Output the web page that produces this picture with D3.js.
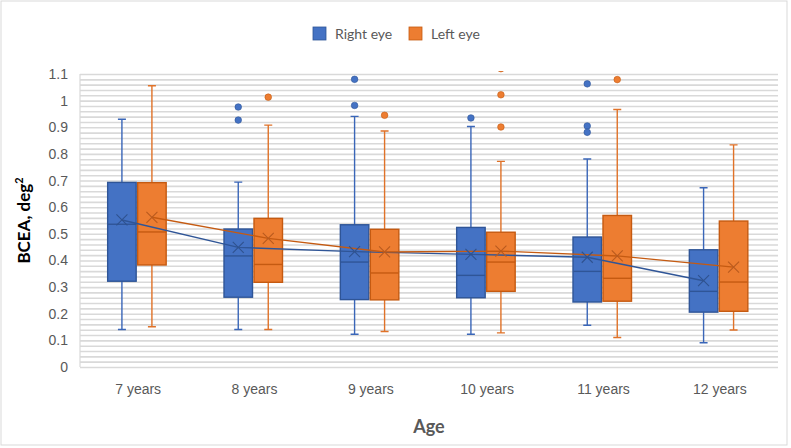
<!DOCTYPE html>
<html>
<head>
<meta charset="utf-8">
<script src="https://cdn.jsdelivr.net/npm/d3@7"></script>
<style>
body { margin:0; background:#fff; }
svg { font-family: Lato, "Open Sans", sans-serif; }
</style>
</head>
<body>
<div id="chart"></div>
<script>
// data
var categories = ["7 years", "8 years", "9 years", "10 years", "11 years", "12 years"];
var series = ["Right eye", "Left eye"];

var rightMin    = [0.141, 0.141, 0.123, 0.123, 0.157, 0.091];
var rightQ1     = [0.322, 0.262, 0.253, 0.260, 0.244, 0.206];
var rightMedian = [0.536, 0.417, 0.394, 0.344, 0.359, 0.284];
var rightQ3     = [0.693, 0.518, 0.534, 0.524, 0.488, 0.440];
var rightMax    = [0.930, 0.694, 0.941, 0.903, 0.781, 0.673];
var rightMean   = [0.552, 0.449, 0.433, 0.423, 0.412, 0.324];
var rightOutliers = [[], [0.976, 0.927], [1.080, 0.982], [0.935], [1.063, 0.905, 0.881], []];

var leftMin    = [0.151, 0.141, 0.133, 0.128, 0.111, 0.139];
var leftQ1     = [0.383, 0.318, 0.252, 0.284, 0.247, 0.209];
var leftMedian = [0.507, 0.385, 0.353, 0.394, 0.333, 0.319];
var leftQ3     = [0.692, 0.558, 0.517, 0.506, 0.569, 0.548];
var leftMax    = [1.056, 0.908, 0.886, 0.772, 0.967, 0.834];
var leftMean   = [0.562, 0.483, 0.432, 0.435, 0.417, 0.375];
var leftOutliers = [[], [1.013], [0.945], [1.12, 1.022, 0.901], [1.079], []];

var yMax = 1.1;

var W = 791, H = 448;
var margin = {top:74, right:13, bottom:81, left:80};
var width = W - margin.left - margin.right;
var height = H - margin.top - margin.bottom;

var fills   = {"Right eye":"#4472C4", "Left eye":"#ED7D31"};
var strokes = {"Right eye":"#2F5597", "Left eye":"#C55A11"};
var whisk   = {"Right eye":"#3A66B8", "Left eye":"#E07228"};

function build(name, mn, q1, md, q3, mx, mean, outl) {
  return categories.map(function(c, i) {
    return {series:name, cat:c, min:mn[i], q1:q1[i], median:md[i], q3:q3[i], max:mx[i], mean:mean[i], outliers:outl[i]};
  });
}
var boxData = {
  "Right eye": build("Right eye", rightMin, rightQ1, rightMedian, rightQ3, rightMax, rightMean, rightOutliers),
  "Left eye":  build("Left eye", leftMin, leftQ1, leftMedian, leftQ3, leftMax, leftMean, leftOutliers)
};

var svg = d3.select("#chart").append("svg")
  .attr("width", W).attr("height", H);

// chart border
svg.append("rect").attr("x", 1).attr("y", 1).attr("width", W - 5).attr("height", H - 4)
  .attr("fill", "#fff").attr("stroke", "#d9d9d9").attr("stroke-width", 1);

var g = svg.append("g").attr("transform", "translate(" + margin.left + "," + margin.top + ")");

var x0 = d3.scaleBand().domain(categories).range([0, width]);
var x1 = d3.scaleBand().domain(series).range([-30.5, 28]).paddingInner(0.05);
var y = d3.scaleLinear().domain([0, yMax]).range([height, 0]);

// minor + major gridlines
g.append("g").attr("class", "grid")
  .call(d3.axisLeft(y).ticks(55).tickSize(-width).tickFormat(""))
  .call(function(s) {
    s.select(".domain").remove();
    s.selectAll("line").attr("stroke", "#d9d9d9").attr("stroke-width", 1.6);
  });

// left axis line
g.append("line").attr("x1", 0).attr("x2", 0).attr("y1", 0).attr("y2", height)
  .attr("stroke", "#d9d9d9").attr("stroke-width", 1.2);

// y tick labels
g.append("g")
  .call(d3.axisLeft(y).ticks(11).tickSize(0).tickPadding(12).tickFormat(function(d) { return +d.toFixed(2); }))
  .call(function(s) {
    s.select(".domain").remove();
    s.selectAll("text").attr("fill", "#595959").style("font-size", "14px");
  });

// x labels
g.append("g").attr("transform", "translate(0," + height + ")")
  .call(d3.axisBottom(x0).tickSize(0).tickPadding(17))
  .call(function(s) {
    s.select(".domain").remove();
    s.selectAll("text").attr("fill", "#595959").style("font-size", "14px");
  });

g.append("clipPath").attr("id", "clip")
  .append("rect").attr("x", -5).attr("y", -3).attr("width", width + 10).attr("height", height + 8);

var plot = g.append("g").attr("clip-path", "url(#clip)");

function cx(d) { return x0(d.cat) + x0.bandwidth() / 2 + x1(d.series) + x1.bandwidth() / 2; }
var capW = 8;

series.forEach(function(s) {
  var data = boxData[s];
  var grp = plot.append("g");

  // whiskers
  grp.selectAll(".whisk").data(data).enter().append("path")
    .attr("d", function(d) {
      var c = cx(d);
      return "M" + c + "," + y(d.q3) + "V" + y(d.max) + "M" + (c - capW/2) + "," + y(d.max) + "H" + (c + capW/2) +
             "M" + c + "," + y(d.q1) + "V" + y(d.min) + "M" + (c - capW/2) + "," + y(d.min) + "H" + (c + capW/2);
    })
    .attr("fill", "none").attr("stroke", whisk[s]).attr("stroke-width", 1.4);

  // boxes
  grp.selectAll(".box").data(data).enter().append("rect")
    .attr("x", function(d) { return cx(d) - x1.bandwidth() / 2; })
    .attr("width", x1.bandwidth())
    .attr("y", function(d) { return y(d.q3); })
    .attr("height", function(d) { return y(d.q1) - y(d.q3); })
    .attr("fill", fills[s]).attr("stroke", strokes[s]).attr("stroke-width", 1.4);

  // medians
  grp.selectAll(".med").data(data).enter().append("line")
    .attr("x1", function(d) { return cx(d) - x1.bandwidth() / 2; })
    .attr("x2", function(d) { return cx(d) + x1.bandwidth() / 2; })
    .attr("y1", function(d) { return y(d.median); })
    .attr("y2", function(d) { return y(d.median); })
    .attr("stroke", strokes[s]).attr("stroke-width", 1.4);

  // outliers
  var outs = [];
  data.forEach(function(d) { d.outliers.forEach(function(v) { outs.push({series:d.series, cat:d.cat, v:v}); }); });
  grp.selectAll(".out").data(outs).enter().append("circle")
    .attr("cx", cx).attr("cy", function(d) { return y(d.v); })
    .attr("r", 3.3).attr("fill", fills[s]).attr("stroke", strokes[s]).attr("stroke-width", 0.6);
});

// mean lines and markers (drawn on top)
series.forEach(function(s) {
  var data = boxData[s];
  plot.append("path").datum(data)
    .attr("d", d3.line().x(cx).y(function(d) { return y(d.mean); }))
    .attr("fill", "none").attr("stroke", strokes[s]).attr("stroke-width", 1.4);
});
series.forEach(function(s) {
  var data = boxData[s];
  var m = 5.5;
  plot.selectAll(".mean" + s.replace(" ", "")).data(data).enter().append("path")
    .attr("d", function(d) {
      var c = cx(d), yy = y(d.mean);
      return "M" + (c - m) + "," + (yy - m) + "L" + (c + m) + "," + (yy + m) +
             "M" + (c - m) + "," + (yy + m) + "L" + (c + m) + "," + (yy - m);
    })
    .attr("fill", "none").attr("stroke", s === "Right eye" ? "#2F528F" : "#B95A1E").attr("stroke-width", 1.1);
});

// axis titles
svg.append("text").attr("x", margin.left + width / 2).attr("y", 433)
  .attr("text-anchor", "middle").attr("fill", "#595959")
  .style("font-size", "18px").style("font-weight", "bold").text("Age");

var yt = svg.append("text").attr("transform", "translate(30," + (margin.top + height / 2) + ") rotate(-90)")
  .attr("text-anchor", "middle").attr("fill", "#000")
  .style("font-size", "17px").style("font-weight", "bold");
yt.append("tspan").text("BCEA, deg");
yt.append("tspan").attr("dy", -7).style("font-size", "11px").text("2");

// legend
var leg = svg.append("g");
var legX = [313, 409];
series.forEach(function(s, i) {
  leg.append("rect").attr("x", legX[i]).attr("y", 27).attr("width", 13).attr("height", 13)
    .attr("fill", fills[s]).attr("stroke", strokes[s]).attr("stroke-width", 0.8);
  leg.append("text").attr("x", legX[i] + 22).attr("y", 39).attr("fill", "#595959")
    .style("font-size", "14px").text(s);
});
</script>
</body>
</html>
